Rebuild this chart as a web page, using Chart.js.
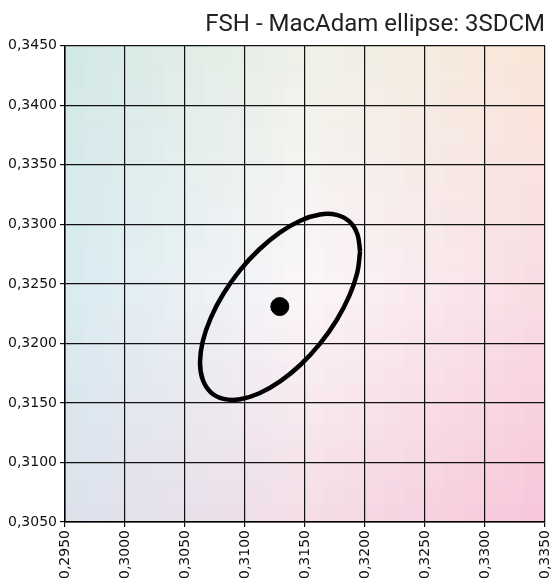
<!DOCTYPE html>
<html>
<head>
<meta charset="utf-8">
<script src="https://cdn.jsdelivr.net/npm/chart.js@4/dist/chart.umd.min.js"></script>
<style>
html,body{margin:0;padding:0;background:#fff;}
#wrap{width:552px;height:585px;}
</style>
</head>
<body>
<div id="wrap"><canvas id="c" width="552" height="585"></canvas></div>
<script>
// ---- data ----
const titleText = "FSH - MacAdam ellipse: 3SDCM";
const centerX = [0.3129];
const centerY = [0.3231];
const ellipseX = [0.31959,0.31936,0.31869,0.31763,0.31625,0.31465,0.31292,0.31120,0.30959,0.30821,0.30715,0.30648,0.30625,0.30648,0.30715,0.30821,0.30959,0.31120,0.31292,0.31465,0.31625,0.31763,0.31869,0.31936,0.31959];
const ellipseY = [0.32774,0.32920,0.33025,0.33080,0.33083,0.33033,0.32933,0.32791,0.32616,0.32419,0.32215,0.32018,0.31840,0.31694,0.31589,0.31534,0.31531,0.31581,0.31681,0.31823,0.31998,0.32195,0.32399,0.32596,0.32774];
const xRange = [0.2950, 0.3350];
const yRange = [0.3050, 0.3450];
const tickStep = 0.005;
// background tint samples (rows top->bottom, cols left->right)
const bgColors = [
  ["#d2e8e6","#eef1e7","#fbe6d8"],
  ["#d8ebf1","#fbf6f9","#f8dde3"],
  ["#dce2ed","#f4dde7","#f8c5da"]
];

function hex(h){return [parseInt(h.substr(1,2),16),parseInt(h.substr(3,2),16),parseInt(h.substr(5,2),16)];}
function lerp(a,b,t){return a.map((v,i)=>v+(b[i]-v)*t);}
function colorAt(u,v){
  const cu=u*2, cv=v*2;
  const i=Math.min(1,Math.floor(cu)), j=Math.min(1,Math.floor(cv));
  const fu=cu-i, fv=cv-j;
  const c00=hex(bgColors[j][i]), c01=hex(bgColors[j][i+1]), c10=hex(bgColors[j+1][i]), c11=hex(bgColors[j+1][i+1]);
  const top=lerp(c00,c01,fu), bot=lerp(c10,c11,fu);
  const c=lerp(top,bot,fv);
  return 'rgb('+c.map(Math.round).join(',')+')';
}
const bgPlugin = {
  id:'bgTint',
  beforeDraw(chart){
    const {ctx, chartArea:a} = chart;
    const cell=20;
    ctx.save();
    for(let y=a.top;y<a.bottom;y+=cell){
      for(let x=a.left;x<a.right;x+=cell){
        const w=Math.min(cell,a.right-x), h=Math.min(cell,a.bottom-y);
        ctx.fillStyle=colorAt((x+w/2-a.left)/(a.right-a.left),(y+h/2-a.top)/(a.bottom-a.top));
        ctx.fillRect(x,y,w+0.5,h+0.5);
      }
    }
    ctx.restore();
  }
};

const fmt = v => Number(v).toFixed(4).replace('.',',');

new Chart(document.getElementById('c'), {
  type:'scatter',
  data:{
    datasets:[
      {
        label:'ellipse',
        data: ellipseX.map((x,i)=>({x:x,y:ellipseY[i]})),
        showLine:true,
        borderColor:'#000',
        borderWidth:4.5,
        pointRadius:0,
        tension:0.4,
        fill:false
      },
      {
        label:'center',
        data: centerX.map((x,i)=>({x:x,y:centerY[i]})),
        pointRadius:9,
        pointBackgroundColor:'#000',
        pointBorderColor:'#000',
        showLine:false
      }
    ]
  },
  options:{
    responsive:false,
    animation:false,
    devicePixelRatio:1,
    layout:{padding:{left:0,right:7,top:0,bottom:0}},
    plugins:{
      legend:{display:false},
      tooltip:{enabled:false},
      title:{
        display:true,
        text:titleText,
        align:'end',
        color:'#222',
        font:{family:'Roboto',size:24,weight:'normal'},
        padding:{top:11,bottom:6}
      }
    },
    scales:{
      x:{
        type:'linear',
        min:xRange[0], max:xRange[1],
        afterFit(s){s.height=63; s.paddingRight=0; s.paddingLeft=0;},
        ticks:{stepSize:tickStep,callback:fmt,minRotation:90,maxRotation:90,color:'#111',font:{family:'DejaVu Sans',size:14},padding:3,autoSkip:false,align:'center'},
        grid:{color:'#111',lineWidth:1.2,tickLength:5,drawTicks:true},
        border:{color:'#000',width:1.5}
      },
      y:{
        type:'linear',
        min:yRange[0], max:yRange[1],
        afterFit(s){s.width=65; s.paddingTop=0; s.paddingBottom=0;},
        ticks:{stepSize:tickStep,callback:fmt,color:'#111',font:{family:'DejaVu Sans',size:14},padding:3,autoSkip:false},
        grid:{color:'#111',lineWidth:1.2,tickLength:5,drawTicks:true},
        border:{color:'#000',width:1.5}
      }
    }
  },
  plugins:[bgPlugin, {
    id:'fixArea',
    afterLayout(chart){
      // ensure plot area spans to the title's right edge
      const a=chart.chartArea;
      if (a.right < 545) {
        const d = 545 - a.right;
        chart.scales.x.right += d; chart.scales.x.width += d;
        a.right = 545; a.width = a.right - a.left;
        chart.scales.x.configure();
        chart.scales.x._startPixel = a.left; chart.scales.x._endPixel = a.right; chart.scales.x._length = a.right - a.left;
      }
    }
  }]
});
</script>
</body>
</html>
